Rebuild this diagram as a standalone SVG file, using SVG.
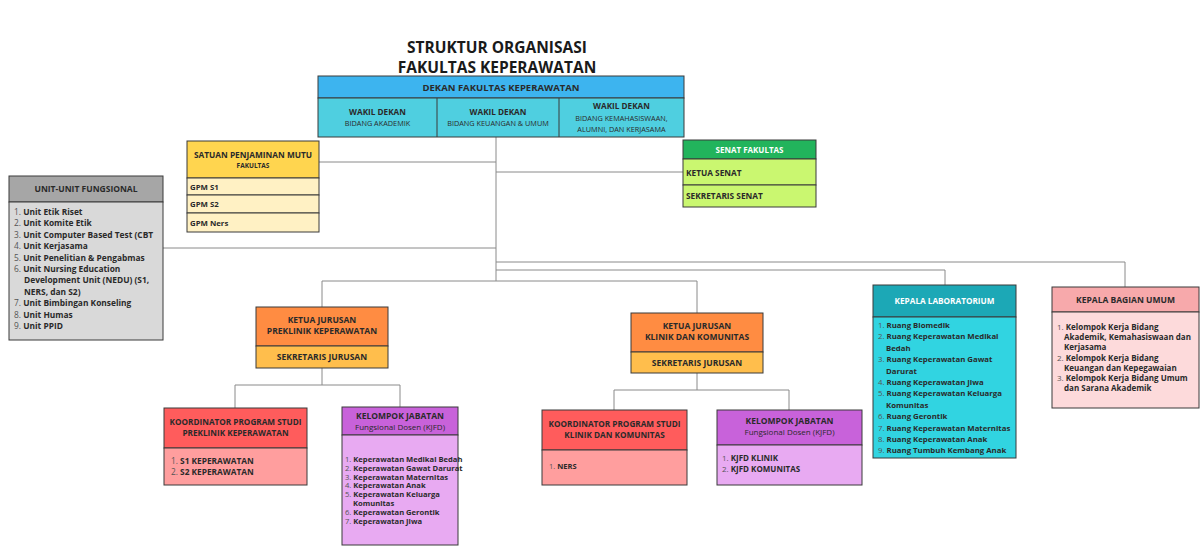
<svg xmlns="http://www.w3.org/2000/svg" width="1202" height="546" viewBox="0 0 1202 546">
<style>
text{font-family:"Open Sans","Liberation Sans",sans-serif;fill:#2a2a2a}
.t{font-size:15.5px;font-weight:700;text-anchor:middle;fill:#1a1a1a}
.h{font-weight:700;text-anchor:middle}
.hw{font-weight:700;text-anchor:middle;fill:#ffffff}
.s{text-anchor:middle}
.r{font-weight:700}
.li{font-weight:700}
.n{font-weight:400;fill:#555}
.bx{stroke:#3a3a3a;stroke-width:1}
.c line,.c polyline{stroke:#8a8a8a;stroke-width:1;fill:none}
</style>
<rect width="1202" height="546" fill="#ffffff"/>
<g id="title">
<text class="t" x="497" y="53">STRUKTUR ORGANISASI</text>
<text class="t" x="497" y="73">FAKULTAS KEPERAWATAN</text>
</g>
<g class="c" id="connectors">
<polyline points="496,137 496,281"/>
<line x1="319" y1="162" x2="496" y2="162"/>
<line x1="496" y1="172" x2="683" y2="172"/>
<line x1="163" y1="248" x2="496" y2="248"/>
<polyline points="496,262 1125,262 1125,287"/>
<polyline points="496,270 945,270 945,285"/>
<polyline points="322,307 322,281 697,281 697,313"/>
<polyline points="322,368 322,385"/>
<polyline points="235,408 235,385 400,385 400,407"/>
<polyline points="697,373 697,390"/>
<polyline points="614,410 614,390 789,390 789,410"/>
</g>
<g id="dekan">
<rect class="bx" x="318" y="76" width="366" height="22" fill="#3DB4EF"/>
<rect class="bx" x="318" y="98" width="366" height="39" fill="#4FCFE0"/>
<line x1="437" y1="98" x2="437" y2="137" stroke="#3a3a3a"/>
<line x1="559" y1="98" x2="559" y2="137" stroke="#3a3a3a"/>
<text class="h" x="501" y="91" font-size="9.5">DEKAN FAKULTAS KEPERAWATAN</text>
<text class="h" x="377.5" y="115" font-size="8.2">WAKIL DEKAN</text>
<text class="s" x="377.5" y="126" font-size="7.3">BIDANG AKADEMIK</text>
<text class="h" x="498" y="115" font-size="8.2">WAKIL DEKAN</text>
<text class="s" x="498" y="126" font-size="7.3">BIDANG KEUANGAN &amp; UMUM</text>
<text class="h" x="621.5" y="108.5" font-size="8.2">WAKIL DEKAN</text>
<text class="s" x="621.5" y="120.5" font-size="7.3">BIDANG KEMAHASISWAAN,</text>
<text class="s" x="621.5" y="131.5" font-size="7.3">ALUMNI, DAN KERJASAMA</text>
</g>
<g id="spm">
<rect class="bx" x="187" y="141" width="132" height="37" fill="#FFD54F"/>
<rect class="bx" x="187" y="178" width="132" height="17" fill="#FFF1C4"/>
<rect class="bx" x="187" y="195" width="132" height="18" fill="#FFF1C4"/>
<rect class="bx" x="187" y="213" width="132" height="19" fill="#FFF1C4"/>
<text class="h" x="253" y="158" font-size="8.3">SATUAN PENJAMINAN MUTU</text>
<text class="h" x="253" y="168" font-size="6.5">FAKULTAS</text>
<text class="r" x="190" y="189.5" font-size="7.8">GPM S1</text>
<text class="r" x="190" y="207" font-size="7.8">GPM S2</text>
<text class="r" x="190" y="226" font-size="7.8">GPM Ners</text>
</g>
<g id="senat">
<rect class="bx" x="683" y="140" width="133" height="19" fill="#22B45C"/>
<rect class="bx" x="683" y="159" width="133" height="26" fill="#CAF770"/>
<rect class="bx" x="683" y="185" width="133" height="22" fill="#CAF770"/>
<text class="hw" x="749.5" y="153" font-size="8">SENAT FAKULTAS</text>
<text class="r" x="686" y="175.5" font-size="8.3">KETUA SENAT</text>
<text class="r" x="686" y="199" font-size="8.3">SEKRETARIS SENAT</text>
</g>
<g id="unit-fungsional" font-size="8.4">
<rect class="bx" x="9" y="176" width="154" height="26" fill="#A6A6A6"/>
<rect class="bx" x="9" y="202" width="154" height="138" fill="#D9D9D9"/>
<text class="h" x="86" y="192" font-size="8.5">UNIT-UNIT FUNGSIONAL</text>
<text class="li" x="14" y="215"><tspan class="n">1.</tspan> Unit Etik Riset</text>
<text class="li" x="14" y="226.4"><tspan class="n">2.</tspan> Unit Komite Etik</text>
<text class="li" x="14" y="237.8"><tspan class="n">3.</tspan> Unit Computer Based Test (CBT</text>
<text class="li" x="14" y="249.2"><tspan class="n">4.</tspan> Unit Kerjasama</text>
<text class="li" x="14" y="260.6"><tspan class="n">5.</tspan> Unit Penelitian &amp; Pengabmas</text>
<text class="li" x="14" y="272"><tspan class="n">6.</tspan> Unit Nursing Education</text>
<text class="li" x="24" y="283.4">Development Unit (NEDU) (S1,</text>
<text class="li" x="24" y="294.8">NERS, dan S2)</text>
<text class="li" x="14" y="306.2"><tspan class="n">7.</tspan> Unit Bimbingan Konseling</text>
<text class="li" x="14" y="317.6"><tspan class="n">8.</tspan> Unit Humas</text>
<text class="li" x="14" y="329"><tspan class="n">9.</tspan> Unit PPID</text>
</g>
<g id="ketua-preklinik" font-size="8.5">
<rect class="bx" x="256" y="307" width="132" height="39" fill="#FF8C42"/>
<rect class="bx" x="256" y="346" width="132" height="22" fill="#FFBE4C"/>
<text class="h" x="322" y="323">KETUA JURUSAN</text>
<text class="h" x="322" y="334">PREKLINIK KEPERAWATAN</text>
<text class="h" x="322" y="360">SEKRETARIS JURUSAN</text>
</g>
<g id="ketua-klinik" font-size="8.5">
<rect class="bx" x="631" y="313" width="132" height="39" fill="#FF8C42"/>
<rect class="bx" x="631" y="352" width="132" height="21" fill="#FFBE4C"/>
<text class="h" x="697" y="329">KETUA JURUSAN</text>
<text class="h" x="697" y="340">KLINIK DAN KOMUNITAS</text>
<text class="h" x="697" y="365.5">SEKRETARIS JURUSAN</text>
</g>
<g id="koordinator-preklinik">
<rect class="bx" x="164" y="408" width="143" height="40" fill="#FF5C5C"/>
<rect class="bx" x="164" y="448" width="143" height="37" fill="#FF9E9E"/>
<text class="h" x="235.5" y="425" font-size="8.2">KOORDINATOR PROGRAM STUDI</text>
<text class="h" x="235.5" y="436" font-size="8.2">PREKLINIK KEPERAWATAN</text>
<text class="li" x="171" y="464" font-size="8.3"><tspan class="n">1.</tspan> S1 KEPERAWATAN</text>
<text class="li" x="171" y="474.5" font-size="8.3"><tspan class="n">2.</tspan> S2 KEPERAWATAN</text>
</g>
<g id="kjfd-preklinik" font-size="7.6">
<rect class="bx" x="342" y="407" width="116" height="28" fill="#C862DA"/>
<rect class="bx" x="342" y="435" width="116" height="110" fill="#E8AAF2"/>
<text class="h" x="400" y="419" font-size="8.5">KELOMPOK JABATAN</text>
<text class="s" x="400" y="430" font-size="8">Fungsional Dosen (KJFD)</text>
<text class="li" x="345" y="462"><tspan class="n">1.</tspan> Keperawatan Medikal Bedah</text>
<text class="li" x="345" y="470.8"><tspan class="n">2.</tspan> Keperawatan Gawat Darurat</text>
<text class="li" x="345" y="479.6"><tspan class="n">3.</tspan> Keperawatan Maternitas</text>
<text class="li" x="345" y="488.4"><tspan class="n">4.</tspan> Keperawatan Anak</text>
<text class="li" x="345" y="497.2"><tspan class="n">5.</tspan> Keperawatan Keluarga</text>
<text class="li" x="353" y="506">Komunitas</text>
<text class="li" x="345" y="514.8"><tspan class="n">6.</tspan> Keperawatan Gerontik</text>
<text class="li" x="345" y="523.6"><tspan class="n">7.</tspan> Keperawatan Jiwa</text>
</g>
<g id="koordinator-klinik">
<rect class="bx" x="542" y="410" width="145" height="40" fill="#FF5C5C"/>
<rect class="bx" x="542" y="450" width="145" height="35" fill="#FF9E9E"/>
<text class="h" x="614.5" y="427" font-size="8.2">KOORDINATOR PROGRAM STUDI</text>
<text class="h" x="614.5" y="438" font-size="8.2">KLINIK DAN KOMUNITAS</text>
<text class="li" x="549" y="468.5" font-size="7.5"><tspan class="n">1.</tspan> NERS</text>
</g>
<g id="kjfd-klinik" font-size="8">
<rect class="bx" x="717" y="410" width="145" height="35" fill="#C862DA"/>
<rect class="bx" x="717" y="445" width="145" height="40" fill="#E8AAF2"/>
<text class="h" x="789.5" y="424" font-size="8.5">KELOMPOK JABATAN</text>
<text class="s" x="789.5" y="435">Fungsional Dosen (KJFD)</text>
<text class="li" x="722" y="461"><tspan class="n">1.</tspan> KJFD KLINIK</text>
<text class="li" x="722" y="471.5"><tspan class="n">2.</tspan> KJFD KOMUNITAS</text>
</g>
<g id="kepala-lab" font-size="7.8">
<rect class="bx" x="873" y="285" width="143" height="32" fill="#1CA8B6"/>
<rect class="bx" x="873" y="317" width="143" height="141" fill="#31D4E1"/>
<text class="hw" x="944.5" y="303.5" font-size="8.2">KEPALA LABORATORIUM</text>
<text class="li" x="878" y="328"><tspan class="n">1.</tspan> Ruang Biomedik</text>
<text class="li" x="878" y="339.4"><tspan class="n">2.</tspan> Ruang Keperawatan Medikal</text>
<text class="li" x="886" y="350.8">Bedah</text>
<text class="li" x="878" y="362.2"><tspan class="n">3.</tspan> Ruang Keperawatan Gawat</text>
<text class="li" x="886" y="373.6">Darurat</text>
<text class="li" x="878" y="385"><tspan class="n">4.</tspan> Ruang Keperawatan Jiwa</text>
<text class="li" x="878" y="396.4"><tspan class="n">5.</tspan> Ruang Keperawatan Keluarga</text>
<text class="li" x="886" y="407.8">Komunitas</text>
<text class="li" x="878" y="419.2"><tspan class="n">6.</tspan> Ruang Gerontik</text>
<text class="li" x="878" y="430.6"><tspan class="n">7.</tspan> Ruang Keperawatan Maternitas</text>
<text class="li" x="878" y="442"><tspan class="n">8.</tspan> Ruang Keperawatan Anak</text>
<text class="li" x="878" y="453.4"><tspan class="n">9.</tspan> Ruang Tumbuh Kembang Anak</text>
</g>
<g id="kepala-bagian-umum" font-size="8">
<rect class="bx" x="1052" y="287" width="147" height="25" fill="#F7A9AB"/>
<rect class="bx" x="1052" y="312" width="147" height="96" fill="#FDDADB"/>
<text class="h" x="1125.5" y="302.5" font-size="8.5">KEPALA BAGIAN UMUM</text>
<text class="li" x="1057" y="330"><tspan class="n">1.</tspan> Kelompok Kerja Bidang</text>
<text class="li" x="1064" y="340.2">Akademik, Kemahasiswaan dan</text>
<text class="li" x="1064" y="350.4">Kerjasama</text>
<text class="li" x="1057" y="360.6"><tspan class="n">2.</tspan> Kelompok Kerja Bidang</text>
<text class="li" x="1064" y="370.8">Keuangan dan Kepegawaian</text>
<text class="li" x="1057" y="381"><tspan class="n">3.</tspan> Kelompok Kerja Bidang Umum</text>
<text class="li" x="1064" y="391.2">dan Sarana Akademik</text>
</g>
</svg>
